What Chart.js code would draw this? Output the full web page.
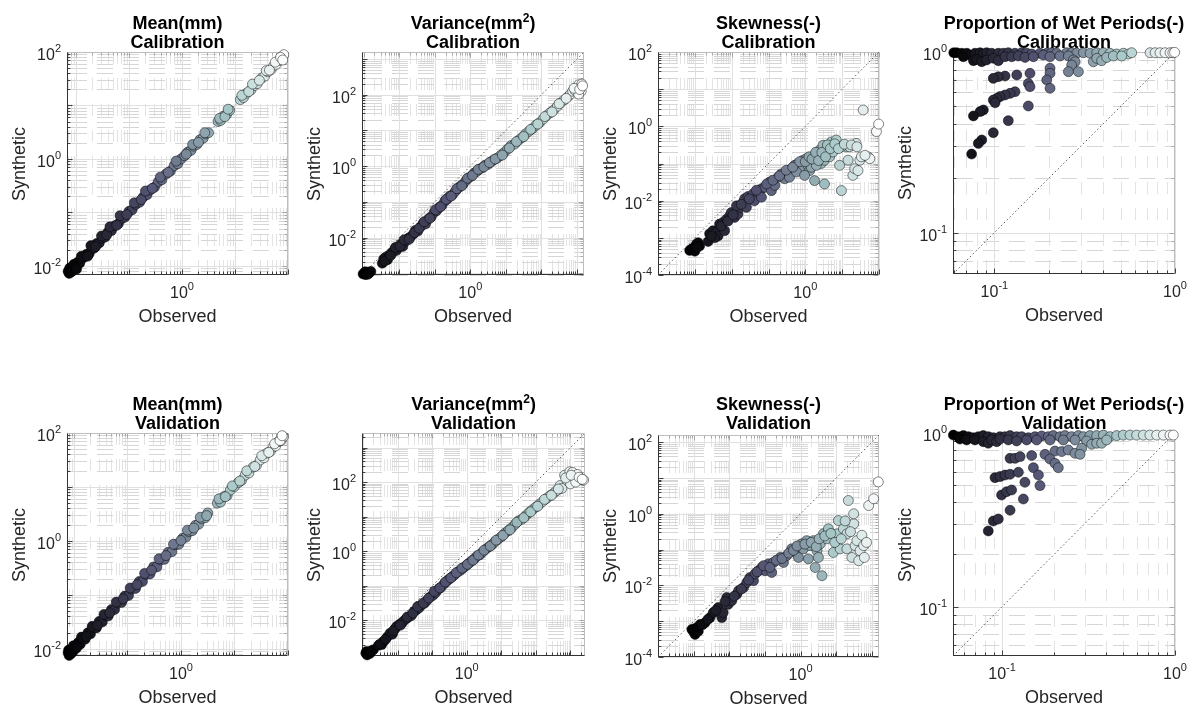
<!DOCTYPE html>
<html>
<head>
<meta charset="utf-8">
<script src="https://cdn.jsdelivr.net/npm/chart.js@4.4.1/dist/chart.umd.min.js"></script>
<style>
  body { margin: 0; background: #fff; }
  #fig { position: relative; width: 1195px; height: 713px; overflow: hidden;
         font-family: "Liberation Sans", Arial, Helvetica, sans-serif; color: #262626; }
  #fig canvas { position: absolute; }
  .tt { position: absolute; font-weight: bold; font-size: 18px; line-height: 19px; color: #000;
        text-align: center; white-space: nowrap; transform: translateX(-50%); }
  .tt .sx { font-size: 12px; position: relative; top: -7px; line-height: 0; }
  .tk { position: absolute; font-size: 16px; line-height: 16px; white-space: nowrap; }
  .tk .ex { font-size: 11px; position: relative; top: -8px; line-height: 0; }
  .xl { position: absolute; font-size: 18px; line-height: 20px; white-space: nowrap; transform: translateX(-50%); }
  .yl { position: absolute; font-size: 18px; line-height: 20px; white-space: nowrap;
        transform: translate(-50%, -50%) rotate(-90deg); }
</style>
</head>
<body>
<div id="fig"></div>
<script>
// all values are log10 of the plotted quantity

// Mean(mm), calibration
const meanCalObs = [-2.15,-2.13,-2.11,-2.1,-2.08,-2.06,-2.03,-2.0,-1.97,-1.93,-1.88,-1.84,-1.8,-1.75,-1.7,-1.66,-1.61,-1.56,-1.5,-1.45,
  -1.4,-1.33,-1.27,-1.2,-1.14,-1.08,-1.0,-0.94,-0.87,-0.8,-0.73,-0.66,-0.6,-0.52,-0.45,-0.38,-0.3,-0.22,-0.15,-0.08,
  -0.02,0.05,0.11,0.17,0.22,0.28,0.34,0.4,0.45,0.5,0.68,0.73,0.78,0.84,0.9,1.1,1.16,1.22,1.3,1.36,
  1.42,1.5,1.56,1.62,1.68,1.73,1.78,1.83,1.88,1.92,
  -2.12,-2.07,-2.04,-1.99,-1.9,-1.78,-1.72,-1.63,-1.52,-1.42,-1.36,-1.23,-1.17,-1.04,-0.9,-0.77,-0.69,-0.56,-0.41,-0.26,
  -0.11,0.08,0.2,0.31,0.43,0.71,0.81,0.87,1.13,1.26,1.33,1.46,1.59,1.65,1.76,1.86,1.9];
const meanCalSyn = [-2.1,-2.14,-2.06,-2.12,-2.05,-2.08,-2.0,-2.03,-1.93,-1.95,-1.86,-1.83,-1.78,-1.77,-1.68,-1.67,-1.58,-1.57,-1.48,-1.46,
  -1.37,-1.34,-1.25,-1.21,-1.12,-1.09,-0.98,-0.95,-0.85,-0.81,-0.71,-0.67,-0.58,-0.53,-0.43,-0.39,-0.28,-0.23,-0.13,-0.09,
  0.0,0.06,0.13,0.16,0.24,0.27,0.36,0.39,0.47,0.49,0.7,0.72,0.8,0.83,0.91,1.11,1.15,1.23,1.29,1.37,
  1.41,1.51,1.55,1.63,1.67,1.74,1.77,1.84,1.87,1.95,
  -2.04,-2.1,-1.97,-2.06,-1.82,-1.82,-1.62,-1.64,-1.44,-1.42,-1.27,-1.24,-1.06,-1.04,-0.82,-0.76,-0.6,-0.55,-0.34,-0.25,
  -0.04,0.09,0.27,0.31,0.49,0.76,0.79,0.93,1.19,1.26,1.4,1.47,1.65,1.66,1.81,1.9,1.85];

// Variance(mm2), calibration
const varCalObs = [-3.02,-2.98,-2.95,-2.9,-2.85,-2.8,-2.48,-2.44,-2.38,-2.33,-2.27,-2.2,-2.14,-2.08,-2.02,-1.95,-1.9,-1.82,-1.75,-1.68,
  -1.6,-1.55,-1.48,-1.4,-1.33,-1.26,-1.18,-1.1,-1.02,-0.95,-0.88,-0.8,-0.72,-0.65,-0.58,-0.5,-0.42,-0.35,-0.28,-0.2,
  -0.12,-0.05,0.03,0.1,0.18,0.26,0.34,0.42,0.5,0.58,0.66,0.75,0.85,0.95,1.05,1.15,1.25,1.35,1.45,1.55,
  1.65,1.75,1.85,1.95,2.05,2.15,2.25,2.35,2.45,2.55,2.65,2.75,2.82,2.88,2.95,3.0,3.05,3.1,3.14,3.12,3.05,
  -2.96,-2.88,-2.41,-2.24,-2.11,-1.98,-1.86,-1.72,-1.57,-1.44,-1.3,-1.14,-0.98,-0.84,-0.68,-0.54,-0.38,-0.24,-0.08,0.06,
  0.22,0.38,0.54,0.7,0.9,1.1,1.3,1.5,1.7,1.9,2.1,2.3,2.5,2.7,2.92,3.08,3.16];
const varCalSyn = [-3.02,-3.0,-3.04,-2.97,-2.99,-2.95,-2.72,-2.6,-2.55,-2.62,-2.48,-2.42,-2.35,-2.36,-2.26,-2.18,-2.25,-2.1,-2.02,-1.98,
  -1.9,-1.8,-1.82,-1.7,-1.6,-1.62,-1.48,-1.42,-1.3,-1.25,-1.16,-1.1,-0.98,-0.92,-0.84,-0.8,-0.7,-0.62,-0.56,-0.5,
  -0.4,-0.33,-0.28,-0.2,-0.15,-0.08,-0.04,0.03,0.05,0.12,0.18,0.22,0.3,0.38,0.48,0.58,0.62,0.72,0.8,0.9,
  0.98,1.05,1.15,1.22,1.32,1.42,1.5,1.58,1.68,1.78,1.86,1.95,2.02,2.1,2.12,2.2,2.28,2.22,2.3,2.1,2.02,
  -2.96,-3.03,-2.66,-2.5,-2.28,-2.24,-2.06,-2.05,-1.86,-1.74,-1.56,-1.46,-1.22,-1.14,-0.93,-0.84,-0.63,-0.55,-0.34,-0.26,
  -0.09,-0.02,0.1,0.2,0.31,0.51,0.69,0.83,1.03,1.18,1.39,1.52,1.75,1.9,2.18,2.15,2.25];

// Skewness(-), calibration
const skewCalObs = [-3.14,-3.05,-2.96,-2.91,-2.87,-3.0,-2.64,-2.6,-2.51,-2.42,-2.37,-2.46,-2.33,-2.24,-2.14,-2.05,-2.01,-1.92,-1.83,-1.78,
  -1.69,-1.65,-1.56,-1.47,-1.42,-1.38,-1.29,-1.19,-1.1,-0.97,-0.92,-0.83,-0.74,-0.65,-0.56,-0.47,-0.38,-0.29,-0.2,-0.11,
  -0.06,0.03,0.07,0.12,0.21,0.25,0.34,0.39,0.43,0.48,0.52,0.57,0.62,0.66,0.71,0.75,0.84,0.93,0.98,1.02,
  1.11,1.16,1.29,1.34,1.38,1.43,1.48,1.52,1.57,1.7,1.75,1.93,1.99,0.25,0.52,-2.19,-1.87,-1.6,-1.19,-0.43,
  -0.24,-0.02,0.16,0.3,0.75,0.84,0.98,1.2,
  -3.08,-2.93,-2.55,-2.28,-2.1,-1.96,-1.74,-1.52,-1.33,-1.05,-0.88,-0.7,-0.52,-0.34,-0.15,0.0,0.1,0.18,0.28,0.36,
  0.45,0.55,0.6,0.68,0.8,0.9,1.06,1.25,1.4,1.62];
const skewCalSyn = [-3.34,-3.28,-3.18,-3.13,-3.22,-3.36,-3.1,-2.89,-2.81,-2.86,-2.95,-3.0,-2.63,-2.59,-2.5,-2.41,-2.32,-2.45,-2.36,-2.18,
  -2.05,-1.95,-1.89,-1.91,-1.82,-2.0,-1.77,-1.68,-1.64,-1.5,-1.73,-1.59,-1.37,-1.28,-1.41,-1.23,-1.14,-1.05,-1.0,-1.1,
  -0.91,-0.87,-1.05,-1.19,-0.96,-0.78,-0.82,-0.64,-1.0,-0.51,-0.91,-0.73,-0.64,-0.82,-0.42,-0.55,-0.55,-1.05,-1.73,-0.51,
  -0.55,-0.91,-1.32,-1.14,-0.46,-1.19,-0.91,-0.82,0.44,-0.82,-0.87,-0.14,0.06,-1.46,-1.55,-2.81,-2.14,-2.18,-1.91,-1.37,
  -1.23,-1.32,-1.1,-1.05,-0.69,-0.37,-0.55,-0.55,
  -3.3,-3.25,-2.95,-2.68,-2.55,-2.38,-2.1,-1.95,-1.72,-1.55,-1.45,-1.33,-1.18,-1.1,-0.95,-0.95,-0.82,-0.88,-0.7,-0.92,
  -0.7,-0.82,-0.5,-0.6,-0.47,-0.6,-0.48,-0.5,-0.55,-0.78];

// Proportion of wet periods(-), calibration
const propCalObs = [-1.225,-1.209,-1.181,-1.153,-1.135,-1.107,-1.079,-1.061,-1.043,-1.015,-0.978,-0.95,-0.923,-0.886,-0.849,-0.821,-0.793,-0.747,-0.71,-0.683,
  -0.655,-0.6,-0.572,-0.544,-0.507,-0.47,-0.433,-0.396,-0.36,-0.323,-0.286,-0.258,-0.24,-0.138,-0.11,-0.083,-0.055,-0.027,-0.012,-0.002,
  -1.172,-1.116,-1.098,-1.07,-1.043,-1.006,-0.978,-0.941,-0.904,-0.867,-0.83,-0.784,-0.729,-0.692,-0.637,-0.59,-0.563,-0.452,-0.433,-0.406,
  -0.378,-0.341,-0.295,-0.553,-0.572,-0.59,-0.535,-0.692,-0.692,-0.71,-0.692,-0.803,-0.812,-0.803,-0.812,-0.876,-0.941,-0.978,-1.006,-0.886,
  -0.913,-0.941,-0.969,-0.987,-1.006,-0.996,-1.061,-1.079,-1.116,-0.923,-1.006,-1.07,-1.089,-1.126];
const propCalSyn = [-0.004,-0.004,-0.007,-0.007,-0.017,-0.007,-0.004,-0.011,-0.004,-0.007,-0.007,-0.007,-0.004,-0.007,-0.004,-0.007,-0.011,-0.007,-0.007,-0.004,
  -0.007,-0.004,-0.004,-0.007,-0.004,-0.007,-0.004,-0.004,-0.007,-0.011,-0.007,-0.011,-0.004,-0.004,-0.004,-0.004,-0.004,-0.004,-0.004,-0.002,
  -0.026,-0.048,-0.041,-0.054,-0.044,-0.035,-0.048,-0.026,-0.026,-0.022,-0.03,-0.026,-0.017,-0.026,-0.022,-0.022,-0.044,-0.054,-0.035,-0.048,
  -0.03,-0.022,-0.022,-0.054,-0.072,-0.109,-0.109,-0.09,-0.118,-0.155,-0.201,-0.118,-0.174,-0.192,-0.299,-0.127,-0.133,-0.137,-0.146,-0.22,
  -0.229,-0.238,-0.247,-0.257,-0.266,-0.281,-0.321,-0.33,-0.354,-0.38,-0.447,-0.487,-0.506,-0.565];

// Mean(mm), validation
const meanValObs = [-2.11,-2.09,-2.08,-2.06,-2.04,-2.02,-1.99,-1.96,-1.92,-1.88,-1.84,-1.79,-1.74,-1.69,-1.64,-1.58,-1.53,-1.47,-1.41,-1.36,
  -1.3,-1.24,-1.18,-1.11,-1.05,-0.98,-0.92,-0.85,-0.78,-0.72,-0.65,-0.58,-0.51,-0.45,-0.38,-0.31,-0.24,-0.17,-0.1,-0.04,
  0.03,0.09,0.15,0.21,0.27,0.33,0.39,0.45,0.5,0.68,0.74,0.8,0.86,0.92,1.0,1.07,1.13,1.2,1.27,1.35,
  1.41,1.48,1.55,1.61,1.67,1.72,1.77,1.82,1.87,1.91,
  -2.1,-2.05,-2.01,-1.94,-1.86,-1.77,-1.66,-1.56,-1.44,-1.33,-1.21,-1.08,-0.95,-0.82,-0.68,-0.55,-0.41,-0.28,-0.14,0.0,
  0.12,0.24,0.36,0.48,0.71,0.83,0.96,1.1,1.23,1.38,1.51,1.64,1.75,1.85,1.89];
const meanValSyn = [-2.07,-2.12,-2.03,-2.09,-2.0,-2.05,-1.95,-1.99,-1.88,-1.91,-1.8,-1.82,-1.7,-1.72,-1.6,-1.61,-1.49,-1.5,-1.38,-1.39,
  -1.27,-1.27,-1.15,-1.14,-1.02,-1.01,-0.89,-0.88,-0.75,-0.75,-0.62,-0.61,-0.48,-0.48,-0.35,-0.34,-0.21,-0.2,-0.07,-0.06,
  0.05,0.07,0.17,0.19,0.29,0.31,0.41,0.43,0.52,0.7,0.72,0.82,0.84,0.94,1.01,1.08,1.12,1.22,1.26,1.37,
  1.4,1.5,1.54,1.63,1.66,1.74,1.76,1.84,1.86,1.93,
  -2.02,-2.08,-1.94,-1.96,-1.78,-1.77,-1.58,-1.56,-1.36,-1.33,-1.13,-1.07,-0.87,-0.81,-0.6,-0.54,-0.33,-0.27,-0.06,0.01,
  0.2,0.24,0.44,0.47,0.78,0.82,1.02,1.11,1.3,1.38,1.58,1.64,1.8,1.86,1.95];

// Variance(mm2), validation
const varValObs = [-2.92,-2.88,-2.85,-2.8,-2.75,-2.7,-2.55,-2.46,-2.4,-2.3,-2.22,-2.15,-2.08,-2.03,-1.95,-1.88,-1.84,-1.75,-1.68,-1.6,
  -1.52,-1.45,-1.38,-1.3,-1.22,-1.15,-1.05,-0.98,-0.9,-0.82,-0.75,-0.66,-0.58,-0.5,-0.42,-0.35,-0.26,-0.18,-0.1,-0.02,
  0.06,0.14,0.22,0.3,0.38,0.46,0.55,0.64,0.72,0.8,0.9,1.0,1.1,1.2,1.3,1.4,1.5,1.6,1.7,1.8,
  1.9,2.0,2.1,2.2,2.3,2.4,2.5,2.6,2.7,2.75,2.83,2.9,2.98,3.06,3.12,3.2,3.3,3.38,3.0,3.15,
  -2.9,-2.78,-2.5,-2.35,-2.12,-1.92,-1.72,-1.56,-1.42,-1.26,-1.1,-0.94,-0.78,-0.62,-0.46,-0.3,-0.14,0.02,0.18,0.34,
  0.5,0.68,0.85,1.05,1.25,1.45,1.65,1.85,2.05,2.25,2.45,2.65,2.86,3.02,3.25,3.34];
const varValSyn = [-2.95,-3.0,-2.92,-2.96,-2.88,-2.85,-2.72,-2.7,-2.6,-2.48,-2.37,-2.4,-2.25,-2.18,-2.12,-2.08,-2.03,-1.95,-1.9,-1.86,
  -1.74,-1.69,-1.64,-1.55,-1.5,-1.42,-1.32,-1.28,-1.2,-1.1,-1.05,-0.95,-0.87,-0.8,-0.74,-0.68,-0.6,-0.55,-0.48,-0.42,
  -0.35,-0.28,-0.22,-0.14,-0.1,-0.02,0.06,0.13,0.18,0.26,0.34,0.42,0.52,0.6,0.68,0.78,0.88,0.93,1.02,1.12,
  1.2,1.28,1.36,1.44,1.52,1.6,1.67,1.75,1.9,1.82,2.2,2.05,2.3,2.28,2.15,2.22,2.1,2.06,1.95,2.0,
  -2.9,-2.9,-2.68,-2.55,-2.3,-2.14,-1.9,-1.79,-1.6,-1.5,-1.36,-1.16,-1.06,-0.89,-0.77,-0.62,-0.49,-0.38,-0.26,-0.11,
  0.03,0.15,0.32,0.46,0.62,0.84,0.97,1.14,1.3,1.5,1.62,1.8,2.12,2.2,2.14,2.08];

// Skewness(-), validation
const skewValObs = [-3.01,-2.91,-2.96,-2.82,-2.68,-2.54,-2.45,-2.31,-2.21,-2.17,-2.07,-2.03,-1.93,-1.79,-1.74,-1.6,-1.51,-1.42,-1.32,-1.28,
  -1.18,-1.09,-1.0,-0.9,-0.81,-0.76,-0.57,-0.48,-0.39,-0.25,-0.15,-0.06,0.03,0.08,0.17,0.22,0.27,0.36,0.41,0.46,
  0.5,0.55,0.6,0.64,0.74,0.78,0.92,1.02,1.06,1.11,1.2,1.3,1.3,1.34,1.44,1.49,1.49,1.53,1.58,1.63,
  1.67,1.77,1.79,1.91,2.05,2.18,-3.05,-2.87,
  -2.98,-2.75,-2.6,-2.38,-2.12,-1.86,-1.66,-1.46,-1.22,-1.04,-0.86,-0.68,-0.52,-0.33,-0.2,-0.1,0.12,0.3,0.44,0.52,
  0.68,0.85,0.96,1.14,1.25,1.4,1.72,1.85];
const skewValSyn = [-3.28,-3.18,-3.37,-3.09,-3.04,-2.9,-2.76,-2.62,-2.9,-2.76,-2.34,-2.53,-2.43,-2.25,-2.15,-2.06,-1.92,-1.78,-1.87,-1.68,
  -1.59,-1.5,-1.59,-1.4,-1.64,-1.36,-1.22,-1.36,-1.17,-0.98,-1.08,-1.22,-0.84,-0.98,-0.75,-1.26,-0.89,-0.75,-1.5,-1.03,
  -1.22,-0.84,-1.73,-0.56,-0.7,-0.42,-1.08,-0.56,-0.19,-0.98,-0.42,-0.56,-0.98,0.37,-1.22,-0.28,0.0,-0.89,-0.75,-1.31,
  -1.03,-0.89,-1.22,0.23,0.42,0.89,-3.23,-3.28,
  -3.22,-3.1,-2.95,-2.7,-2.45,-2.3,-2.1,-1.85,-1.62,-1.45,-1.5,-1.3,-1.25,-1.1,-1.02,-0.9,-0.85,-0.8,-0.92,-0.7,
  -0.62,-0.55,-0.8,-0.7,-0.2,-0.5,-0.6,-0.8];

// Proportion of wet periods(-), validation
const propValObs = [-1.282,-1.253,-1.224,-1.195,-1.166,-1.137,-1.109,-1.08,-1.051,-1.012,-0.983,-0.954,-0.916,-0.887,-0.848,-0.81,-0.771,-0.733,-0.704,-0.665,
  -0.636,-0.598,-0.559,-0.53,-0.492,-0.453,-0.414,-0.376,-0.337,-0.299,-0.26,-0.222,-0.183,-0.145,-0.106,-0.067,-0.029,-0.01,
  -1.244,-1.205,-1.157,-1.109,-1.08,-1.06,-1.031,-1.012,-0.964,-0.916,-0.858,-0.8,-0.723,-0.646,-0.578,-0.511,-0.482,-0.453,-0.424,-0.395,
  -0.694,-0.655,-0.617,-0.578,-0.54,-0.549,-0.954,-0.925,-0.896,-0.829,-0.752,-0.723,-0.694,-0.675,
  -1.041,-1.012,-0.983,-0.954,-0.906,-0.819,-0.79,-0.781,-0.868,-1.003,-0.974,-0.945,-0.877,-0.954,-1.051,-1.022,-1.08];
const propValSyn = [-0.012,-0.021,-0.015,-0.021,-0.027,-0.021,-0.015,-0.021,-0.027,-0.021,-0.021,-0.015,-0.021,-0.021,-0.027,-0.021,-0.017,-0.021,-0.015,-0.021,
  -0.015,-0.021,-0.015,-0.021,-0.015,-0.015,-0.012,-0.021,-0.015,-0.012,-0.012,-0.012,-0.012,-0.012,-0.012,-0.012,-0.012,-0.012,
  -0.035,-0.04,-0.04,-0.05,-0.059,-0.04,-0.05,-0.035,-0.04,-0.046,-0.04,-0.04,-0.04,-0.04,-0.04,-0.046,-0.065,-0.059,-0.059,-0.04,
  -0.104,-0.107,-0.098,-0.117,-0.088,-0.123,-0.146,-0.146,-0.136,-0.13,-0.123,-0.15,-0.175,-0.2,
  -0.257,-0.251,-0.242,-0.238,-0.226,-0.2,-0.242,-0.303,-0.284,-0.357,-0.338,-0.328,-0.38,-0.445,-0.507,-0.495,-0.564];

const panels = [
  { obs: meanCalObs, syn: meanCalSyn, lo: -2.17, hi: 2.0, left: 67, top: 52, w: 221, h: 223, row: 0,
    title: "Mean(mm)", sub: "Calibration", yLab: [-2, 0, 2], xLab: [0] },
  { obs: varCalObs, syn: varCalSyn, lo: -3.05, hi: 3.2, left: 362, top: 52, w: 222, h: 223, row: 0,
    title: "Variance(mm<span class='sx'>2</span>)", sub: "Calibration", yLab: [-2, 0, 2], xLab: [0] },
  { obs: skewCalObs, syn: skewCalSyn, lo: -4, hi: 2, left: 658, top: 52, w: 221, h: 223, row: 0,
    title: "Skewness(-)", sub: "Calibration", yLab: [-4, -2, 0, 2], xLab: [0] },
  { obs: propCalObs, syn: propCalSyn, lo: Math.log10(0.059), hi: 0, left: 953, top: 52, w: 222, h: 222, row: 0,
    title: "Proportion of Wet Periods(-)", sub: "Calibration", yLab: [-1, 0], xLab: [-1, 0] },
  { obs: meanValObs, syn: meanValSyn, lo: -2.13, hi: 2.0, left: 67, top: 433, w: 221, h: 223, row: 1,
    title: "Mean(mm)", sub: "Validation", yLab: [-2, 0, 2], xLab: [0] },
  { obs: varValObs, syn: varValSyn, lo: -3.03, hi: 3.42, left: 362, top: 433, w: 223, h: 223, row: 1,
    title: "Variance(mm<span class='sx'>2</span>)", sub: "Validation", yLab: [-2, 0, 2], xLab: [0] },
  { obs: skewValObs, syn: skewValSyn, lo: -4, hi: 2.2, left: 658, top: 435, w: 221, h: 222, row: 1,
    title: "Skewness(-)", sub: "Validation", yLab: [-4, -2, 0, 2], xLab: [0] },
  { obs: propValObs, syn: propValSyn, lo: Math.log10(0.052), hi: 0, left: 953, top: 433, w: 222, h: 223, row: 1,
    title: "Proportion of Wet Periods(-)", sub: "Validation", yLab: [-1, 0], xLab: [-1, 0] },
];

const PAD = 10;
const fig = document.getElementById("fig");

// MATLAB "bone" colormap
function bone(t) {
  const r = Math.min(1, t / 0.375);
  const g = Math.min(1, Math.max(0, (t - 0.375) / 0.375));
  const b = Math.min(1, Math.max(0, (t - 0.75) / 0.25));
  const c = (v) => Math.round(255 * v);
  return `rgb(${c((7 * t + b) / 8)},${c((7 * t + g) / 8)},${c((7 * t + r) / 8)})`;
}

function logValues(min, max) {
  const out = [];
  for (let d = Math.floor(Math.log10(min)) - 1; d <= Math.ceil(Math.log10(max)); d++) {
    for (let m = 1; m <= 9; m++) {
      const v = m * Math.pow(10, d);
      if (v >= min * 0.999 && v <= max * 1.001) out.push({ v, major: m === 1 });
    }
  }
  return out;
}

// grid, box and inward ticks, drawn from the chart's own scales
const frame = {
  id: "frame",
  beforeDatasetsDraw(chart) {
    const { ctx, chartArea: a, scales } = chart;
    const sx = scales.x, sy = scales.y;
    ctx.save();
    ctx.lineWidth = 1;
    for (const pass of ["minor", "major"]) {
      for (const t of logValues(sx.min, sx.max)) {
        if ((pass === "major") !== t.major) continue;
        const p = Math.round(sx.getPixelForValue(t.v)) + 0.5;
        ctx.strokeStyle = t.major ? "#e0e0e0" : "#e3e3e3";
        ctx.setLineDash(t.major ? [] : [12, 14]);
        ctx.lineDashOffset = 0;
        ctx.beginPath(); ctx.moveTo(p, a.top); ctx.lineTo(p, a.bottom); ctx.stroke();
      }
      for (const t of logValues(sy.min, sy.max)) {
        if ((pass === "major") !== t.major) continue;
        const p = Math.round(sy.getPixelForValue(t.v)) + 0.5;
        ctx.strokeStyle = t.major ? "#e0e0e0" : "#d6d6d6";
        ctx.setLineDash(t.major ? [] : [16, 10]);
        ctx.lineDashOffset = -4;
        ctx.beginPath(); ctx.moveTo(a.left, p); ctx.lineTo(a.right, p); ctx.stroke();
      }
    }
    ctx.setLineDash([]);
    const L = Math.round(a.left) + 0.5, R = Math.round(a.right) - 0.5;
    const T = Math.round(a.top) + 0.5, B = Math.round(a.bottom) - 0.5;
    // ticks
    for (const t of logValues(sx.min, sx.max)) {
      const p = Math.round(sx.getPixelForValue(t.v)) + 0.5, len = t.major ? 5 : 3;
      ctx.strokeStyle = "#404040";
      ctx.beginPath(); ctx.moveTo(p, B); ctx.lineTo(p, B - len); ctx.stroke();
      ctx.strokeStyle = "#a8a8a8";
      ctx.beginPath(); ctx.moveTo(p, T); ctx.lineTo(p, T + len); ctx.stroke();
    }
    for (const t of logValues(sy.min, sy.max)) {
      const p = Math.round(sy.getPixelForValue(t.v)) + 0.5, len = t.major ? 5 : 3;
      ctx.strokeStyle = "#404040";
      ctx.beginPath(); ctx.moveTo(L, p); ctx.lineTo(L + len, p); ctx.stroke();
      ctx.strokeStyle = "#a8a8a8";
      ctx.beginPath(); ctx.moveTo(R, p); ctx.lineTo(R - len, p); ctx.stroke();
    }
    // box
    ctx.strokeStyle = "#bdbdbd";
    ctx.beginPath(); ctx.moveTo(L, T); ctx.lineTo(R, T); ctx.lineTo(R, B); ctx.stroke();
    ctx.strokeStyle = "#333";
    ctx.beginPath(); ctx.moveTo(L, T); ctx.lineTo(L, B); ctx.lineTo(R, B); ctx.stroke();
    ctx.restore();
  },
};

function addText(cls, html, left, top) {
  const el = document.createElement("div");
  el.className = cls;
  el.innerHTML = html;
  el.style.left = left + "px";
  el.style.top = top + "px";
  fig.appendChild(el);
  return el;
}

function expLabel(e) {
  return "10<span class='ex'>" + e + "</span>";
}

panels.forEach((p) => {
  const canvas = document.createElement("canvas");
  canvas.width = p.w + 2 * PAD;
  canvas.height = p.h + 2 * PAD;
  canvas.style.left = (p.left - PAD) + "px";
  canvas.style.top = (p.top - PAD) + "px";
  fig.appendChild(canvas);

  const min = Math.pow(10, p.lo), max = Math.pow(10, p.hi);
  const oMin = Math.min(...p.obs), oMax = Math.max(...p.obs);
  const points = p.obs.map((e, i) => ({ x: Math.pow(10, e), y: Math.pow(10, p.syn[i]) }));
  const fills = p.obs.map((e) => bone((e - oMin) / (oMax - oMin)));

  const chart = new Chart(canvas, {
    type: "scatter",
    data: {
      datasets: [
        {
          data: points,
          backgroundColor: fills,
          borderColor: "rgba(0,0,0,0.8)",
          borderWidth: 0.6,
          pointRadius: 5,
          pointHoverRadius: 5,
          clip: false,
        },
        {
          data: [{ x: min, y: min }, { x: max, y: max }],
          showLine: true,
          borderColor: "#333",
          borderWidth: 0.8,
          borderDash: [1.5, 2.5],
          pointRadius: 0,
        },
      ],
    },
    plugins: [frame],
    options: {
      responsive: false,
      animation: false,
      events: [],
      layout: { padding: PAD },
      plugins: { legend: { display: false }, tooltip: { enabled: false } },
      scales: {
        x: { type: "logarithmic", min, max, display: false },
        y: { type: "logarithmic", min, max, display: false },
      },
    },
  });

  const sx = chart.scales.x, sy = chart.scales.y;
  const ox = p.left - PAD, oy = p.top - PAD;
  const bottom = p.top + p.h;
  const cx = p.left + p.w / 2;

  const titleTop = p.row === 0 ? 13.5 : 394.5;
  addText("tt", p.title + "<br>" + p.sub, cx, titleTop);

  p.yLab.forEach((e) => {
    const py = oy + sy.getPixelForValue(Math.pow(10, e));
    const el = addText("tk", expLabel(e), p.left - 6, py - 5);
    el.style.transform = "translateX(-100%)";
  });
  p.xLab.forEach((e) => {
    const px = ox + sx.getPixelForValue(Math.pow(10, e));
    const el = addText("tk", expLabel(e), px, bottom + 10);
    el.style.transform = "translateX(-50%)";
  });

  addText("xl", "Observed", cx, bottom + 30.75);
  addText("yl", "Synthetic", p.left - 48.25, p.top + p.h / 2);
});
</script>
</body>
</html>
